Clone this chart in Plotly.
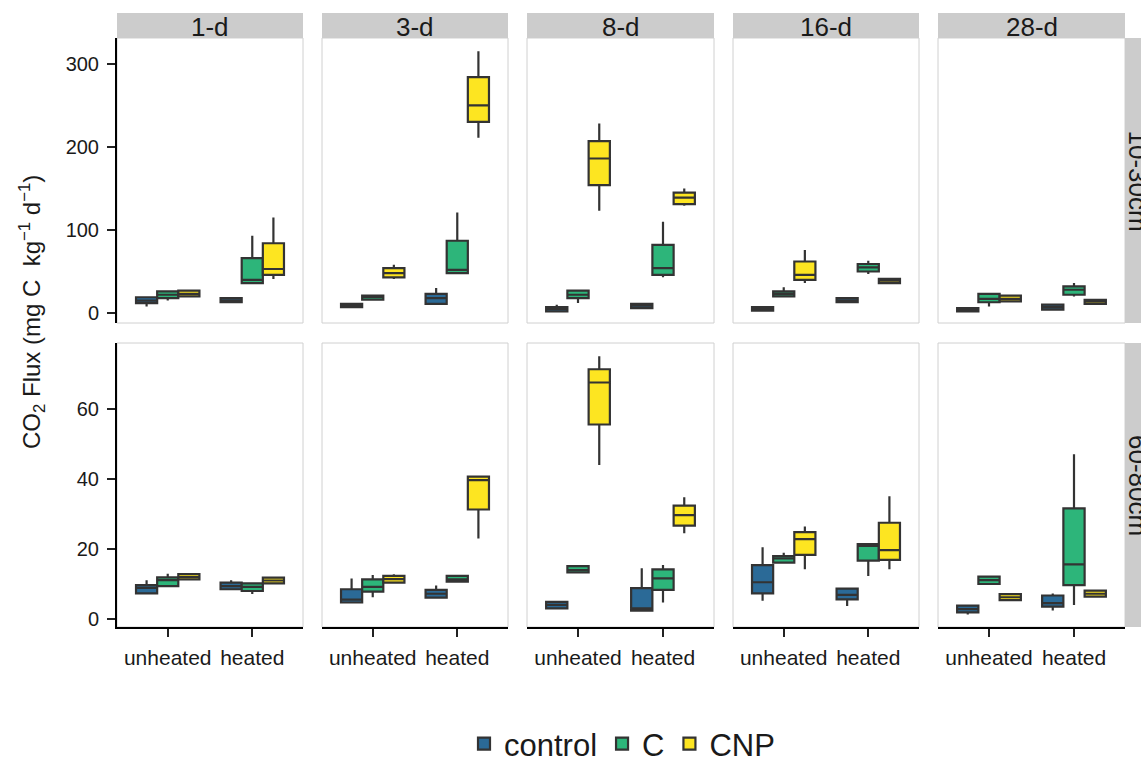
import plotly.graph_objects as go

W, H = 1141, 758

days = ["1-d", "3-d", "8-d", "16-d", "28-d"]
depths = ["10-30cm", "60-80cm"]
treatments = ["unheated", "heated"]
amendments = ["control", "C", "CNP"]
colors = ["#2B6A97", "#2DB57A", "#FDE521"]

top_ticks = [0, 100, 200, 300]
bottom_ticks = [0, 20, 40, 60]

# Box statistics, indexed [day][amendment][treatment]
# 10-30cm
shallow_lo = [
    [[8, 13], [15, 36], [19, 41]],
    [[6, 10], [15, 47], [41, 211]],
    [[1, 6], [12, 43], [123, 129]],
    [[2, 12], [19, 47], [36, 35]],
    [[1, 3], [8, 20], [13, 10]],
]
shallow_q1 = [
    [[12, 13], [18, 36], [20, 46]],
    [[7, 11], [16, 48], [43, 230]],
    [[2, 6], [18, 46], [154, 131]],
    [[3, 13], [20, 50], [40, 36]],
    [[2, 4], [13, 22], [14, 11]],
]
shallow_med = [
    [[15, 15], [22, 40], [23, 53]],
    [[9, 18], [19, 52], [48, 250]],
    [[5, 9], [22, 54], [186, 139]],
    [[5, 15], [23, 55], [46, 39]],
    [[4, 7], [17, 28], [17, 14]],
]
shallow_q3 = [
    [[19, 18], [26, 66], [27, 84]],
    [[11, 23], [21, 87], [54, 284]],
    [[7, 11], [27, 82], [207, 145]],
    [[7, 18], [26, 59], [62, 41]],
    [[6, 10], [23, 32], [21, 16]],
]
shallow_hi = [
    [[20, 18], [27, 93], [28, 115]],
    [[12, 30], [22, 121], [58, 315]],
    [[10, 12], [28, 110], [228, 150]],
    [[8, 19], [31, 63], [76, 42]],
    [[7, 11], [24, 36], [22, 17]],
]

# 60-80cm
deep_lo = [
    [[7.3, 8.5], [9.4, 7.1], [11.2, 10.0]],
    [[4.7, 6.0], [6.2, 10.5], [10.3, 23.0]],
    [[2.9, 2.4], [13.2, 4.7], [44.0, 24.5]],
    [[5.2, 3.7], [16.0, 12.3], [14.2, 14.2]],
    [[1.3, 2.4], [9.9, 4.0], [5.3, 6.3]],
]
deep_q1 = [
    [[7.3, 8.5], [9.4, 8.0], [11.3, 10.2]],
    [[4.7, 6.1], [7.8, 10.7], [10.4, 31.3]],
    [[3.0, 2.4], [13.3, 8.3], [55.6, 26.7]],
    [[7.3, 5.6], [16.1, 16.7], [18.3, 16.9]],
    [[1.9, 3.5], [10.0, 9.7], [5.4, 6.4]],
]
deep_med = [
    [[8.9, 9.4], [11.1, 9.2], [12.0, 11.0]],
    [[5.5, 7.2], [9.2, 11.3], [11.4, 39.7]],
    [[4.0, 3.0], [14.0, 11.6], [67.6, 29.7]],
    [[10.5, 6.9], [17.3, 20.9], [22.8, 19.7]],
    [[2.8, 4.5], [11.1, 15.6], [6.2, 7.2]],
]
deep_q3 = [
    [[9.7, 10.4], [11.9, 10.2], [12.8, 11.8]],
    [[8.5, 8.3], [11.3, 12.3], [12.3, 40.7]],
    [[4.9, 8.8], [15.1, 14.2], [71.4, 32.4]],
    [[15.4, 8.7], [18.0, 21.4], [24.8, 27.5]],
    [[3.8, 6.7], [12.1, 31.6], [7.1, 8.1]],
]
deep_hi = [
    [[11.1, 11.1], [12.9, 10.2], [12.9, 11.9]],
    [[11.6, 9.6], [12.6, 12.4], [12.8, 41.0]],
    [[5.0, 14.5], [15.2, 15.4], [75.1, 34.8]],
    [[20.5, 8.8], [18.9, 21.5], [26.4, 35.1]],
    [[3.9, 7.3], [12.2, 47.1], [7.2, 8.2]],
]

stats = [
    (shallow_lo, shallow_q1, shallow_med, shallow_q3, shallow_hi),
    (deep_lo, deep_q1, deep_med, deep_q3, deep_hi),
]
y_ranges = [[-12, 331], [-2.3, 78.9]]
y_ticks = [top_ticks, bottom_ticks]

# panel geometry in pixels
col_px = [(117, 303), (322, 508), (527, 714), (733, 919), (938, 1125)]
row_px = [(38, 323), (343, 627)]
strip_top = 13
strip_right = (1125, 1141)


def px_x(v):
    return v / W


def px_y(v):
    return 1 - v / H


FONT = "Liberation Sans, Arial, sans-serif"
TXT = "#1a1a1a"

fig = go.Figure()
layout = {}
shapes = []
annotations = []

for r in range(2):
    lo_s, q1_s, med_s, q3_s, hi_s = stats[r]
    for c in range(5):
        idx = r * 5 + c + 1
        xa = "x" if idx == 1 else f"x{idx}"
        ya = "y" if idx == 1 else f"y{idx}"
        for a, amend in enumerate(amendments):
            fig.add_trace(go.Box(
                x=treatments,
                lowerfence=lo_s[c][a],
                q1=q1_s[c][a],
                median=med_s[c][a],
                q3=q3_s[c][a],
                upperfence=hi_s[c][a],
                name=amend,
                legendgroup=amend,
                showlegend=(idx == 1),
                offsetgroup=amend,
                fillcolor=colors[a],
                line=dict(color="#333333", width=2.2),
                whiskerwidth=0,
                boxpoints=False,
                xaxis=xa,
                yaxis=ya,
            ))

        x0, x1 = col_px[c]
        y0, y1 = row_px[r]
        xkey = "xaxis" if idx == 1 else f"xaxis{idx}"
        ykey = "yaxis" if idx == 1 else f"yaxis{idx}"
        bottom = r == 1
        left = c == 0
        layout[xkey] = dict(
            domain=[px_x(x0), px_x(x1)],
            anchor=ya,
            type="category",
            categoryorder="array",
            categoryarray=treatments,
            range=[-0.6, 1.6],
            showgrid=False,
            zeroline=False,
            showline=bottom,
            linecolor="black",
            linewidth=2,
            ticks="outside" if bottom else "",
            ticklen=8,
            tickwidth=2,
            tickcolor="#222222",
            ticklabelstandoff=3,
            showticklabels=bottom,
            tickfont=dict(family=FONT, size=21, color=TXT),
        )
        layout[ykey] = dict(
            domain=[px_y(y1), px_y(y0)],
            anchor=xa,
            range=y_ranges[r],
            tickvals=y_ticks[r],
            showgrid=False,
            zeroline=False,
            showline=left,
            linecolor="black",
            linewidth=2,
            ticks="outside" if left else "",
            ticklen=8,
            tickwidth=2,
            tickcolor="#222222",
            ticklabelstandoff=4,
            showticklabels=left,
            tickfont=dict(family=FONT, size=20, color=TXT),
        )
        # panel border
        shapes.append(dict(
            type="rect", xref="paper", yref="paper",
            x0=px_x(x0), x1=px_x(x1), y0=px_y(y1), y1=px_y(y0),
            line=dict(color="#D0D0D0", width=1), fillcolor="rgba(0,0,0,0)",
            layer="below",
        ))

# column strips
for c, day in enumerate(days):
    x0, x1 = col_px[c]
    shapes.append(dict(
        type="rect", xref="paper", yref="paper",
        x0=px_x(x0), x1=px_x(x1), y0=px_y(row_px[0][0]), y1=px_y(strip_top),
        line=dict(width=0), fillcolor="#CCCCCC", layer="below",
    ))
    annotations.append(dict(
        text=day, xref="paper", yref="paper",
        x=px_x((x0 + x1) / 2), y=px_y((strip_top + row_px[0][0]) / 2 + 1),
        showarrow=False, xanchor="center", yanchor="middle",
        font=dict(family=FONT, size=26, color=TXT),
    ))

# row strips on the right edge
for r, depth in enumerate(depths):
    y0, y1 = row_px[r]
    shapes.append(dict(
        type="rect", xref="paper", yref="paper",
        x0=px_x(strip_right[0]), x1=px_x(strip_right[1] + 20),
        y0=px_y(y1), y1=px_y(y0),
        line=dict(width=0), fillcolor="#CCCCCC", layer="below",
    ))
    annotations.append(dict(
        text=depth, xref="paper", yref="paper",
        x=px_x(1138), y=px_y((y0 + y1) / 2),
        showarrow=False, xanchor="center", yanchor="middle", textangle=90,
        font=dict(family=FONT, size=26, color=TXT),
    ))

# y-axis title
annotations.append(dict(
    text="CO<sub>2</sub> Flux (mg C  kg<sup>\u22121</sup> d<sup>\u22121</sup>)",
    xref="paper", yref="paper", x=px_x(32), y=px_y(312),
    showarrow=False, xanchor="center", yanchor="middle", textangle=-90,
    font=dict(family=FONT, size=24, color=TXT),
))

fig.update_layout(
    width=W, height=H,
    margin=dict(l=0, r=0, t=0, b=0, autoexpand=False),
    paper_bgcolor="white",
    plot_bgcolor="rgba(0,0,0,0)",
    boxmode="group",
    boxgap=0.25,
    boxgroupgap=0,
    shapes=shapes,
    annotations=annotations,
    showlegend=True,
    legend=dict(
        orientation="h",
        x=px_x(622), y=px_y(744),
        xanchor="center", yanchor="middle",
        font=dict(family=FONT, size=31, color=TXT),
        itemwidth=30,
        tracegroupgap=0,
    ),
    **layout,
)

fig.write_html("out.html")
